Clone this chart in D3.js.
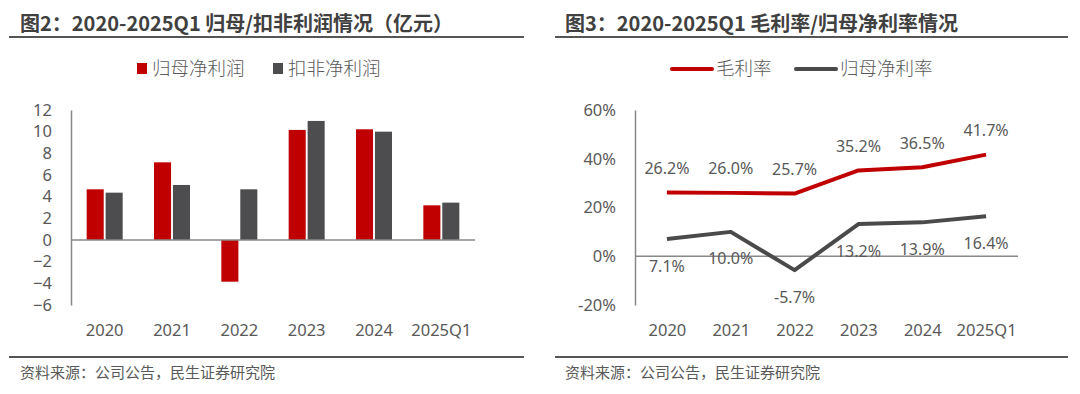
<!DOCTYPE html>
<html>
<head>
<meta charset="utf-8">
<script src="https://cdn.jsdelivr.net/npm/d3@7"></script>
<style>
  body { margin: 0; background: #fff; }
  text { font-family: "Noto Sans", "Noto Sans CJK SC", sans-serif; fill: #595959; }
  .cjk { font-family: "Noto Sans CJK SC", sans-serif; }
</style>
</head>
<body>
<script>
var width = 1080;
var height = 394;

// data
var categories = ['2020', '2021', '2022', '2023', '2024', '2025Q1'];
var profitSeries = ['归母净利润', '扣非净利润'];
var netProfit = [4.68, 7.17, -3.85, 10.16, 10.22, 3.2];
var deductedProfit = [4.37, 5.08, 4.68, 10.99, 10.0, 3.45];
var profitTicks = [-6, -4, -2, 0, 2, 4, 6, 8, 10, 12];

var marginSeries = ['毛利率', '归母净利率'];
var grossMargin = [26.2, 26.0, 25.7, 35.2, 36.5, 41.7];
var netMargin = [7.1, 10.0, -5.7, 13.2, 13.9, 16.4];
var marginTicks = [-20, 0, 20, 40, 60];

var red = '#c00000';
var grey = '#4d4d4f';

var svg = d3.select('body').append('svg')
    .attr('width', width)
    .attr('height', height);

function frame(x0, x1, tx, title) {
  // title + rules top and bottom
  svg.append('text').attr('class', 'cjk')
      .attr('x', tx).attr('y', 31)
      .style('font-size', '20px').style('font-weight', 700).style('fill', '#404040')
      .text(title);
  [37, 357].forEach(function(y) {
    svg.append('line')
        .attr('x1', x0).attr('x2', x1).attr('y1', y).attr('y2', y)
        .attr('stroke', '#555').attr('stroke-width', 2);
  });
  svg.append('text').attr('class', 'cjk')
      .attr('x', tx).attr('y', 378)
      .style('font-size', '15px')
      .text('资料来源：公司公告，民生证券研究院');
}

function styleAxis(g) {
  g.selectAll('text').style('font-size', '16.5px').style('fill', '#595959');
  g.select('.domain').attr('stroke', '#888').attr('stroke-width', 1.5);
}

// ---------- left: bar chart ----------
frame(9, 524, 20, '图2：2020-2025Q1 归母/扣非利润情况（亿元）');

var x = d3.scaleBand().domain(categories).range([71, 475]);
var x1 = d3.scaleBand().domain(profitSeries).range([-18, 18]).paddingInner(0.1);
var y = d3.scaleLinear().domain([-6, 12]).range([305, 110]);

var left = svg.append('g');

left.append('g')
    .attr('transform', 'translate(71,0)')
    .call(d3.axisLeft(y).tickValues(profitTicks).tickSize(0).tickSizeOuter(0).tickPadding(19))
    .call(styleAxis);

left.append('g')
    .attr('transform', 'translate(0,305)')
    .call(d3.axisBottom(x).tickSize(0).tickPadding(19))
    .call(styleAxis)
    .call(function(g) { g.select('.domain').remove(); });

var barData = [netProfit, deductedProfit];
barData.forEach(function(vals, si) {
  left.selectAll('.bar' + si)
      .data(vals)
    .enter().append('rect')
      .attr('x', function(d, i) { return x(categories[i]) + x.bandwidth() / 2 + x1(profitSeries[si]); })
      .attr('width', x1.bandwidth())
      .attr('y', function(d) { return y(Math.max(0, d)); })
      .attr('height', function(d) { return Math.abs(y(d) - y(0)); })
      .attr('fill', si === 0 ? red : grey);
});

left.append('line')
    .attr('x1', 71).attr('x2', 475).attr('y1', y(0)).attr('y2', y(0))
    .attr('stroke', '#888').attr('stroke-width', 1.5);

// legend
var legendX = [137, 273];
profitSeries.forEach(function(s, i) {
  left.append('rect')
      .attr('x', legendX[i]).attr('y', 63).attr('width', 10).attr('height', 11)
      .attr('fill', i === 0 ? red : grey);
  left.append('text').attr('class', 'cjk')
      .attr('x', legendX[i] + 15).attr('y', 75)
      .style('font-size', '18.5px').style('font-weight', 300)
      .text(s);
});

// ---------- right: line chart ----------
frame(555, 1068, 565, '图3：2020-2025Q1 毛利率/归母净利率情况');

var px = d3.scalePoint().domain(categories).range([635, 1018]).padding(0.5);
var py = d3.scaleLinear().domain([-20, 60]).range([305, 110]);

var right = svg.append('g');

right.append('g')
    .attr('transform', 'translate(635,0)')
    .call(d3.axisLeft(py).tickValues(marginTicks).tickSize(0).tickSizeOuter(0).tickPadding(19)
      .tickFormat(function(d) { return d + '%'; }))
    .call(styleAxis);

right.append('g')
    .attr('transform', 'translate(0,305)')
    .call(d3.axisBottom(px).tickSize(0).tickPadding(19))
    .call(styleAxis)
    .call(function(g) { g.select('.domain').remove(); });

right.append('line')
    .attr('x1', 635).attr('x2', 1018).attr('y1', py(0)).attr('y2', py(0))
    .attr('stroke', '#888').attr('stroke-width', 1.5);

var line = d3.line()
    .x(function(d, i) { return px(categories[i]); })
    .y(function(d) { return py(d); });

var lineData = [grossMargin, netMargin];
lineData.forEach(function(vals, si) {
  right.append('path')
      .datum(vals)
      .attr('d', line)
      .attr('fill', 'none')
      .attr('stroke', si === 0 ? red : '#4a4a4a')
      .attr('stroke-width', 4)
      .attr('stroke-linejoin', 'round');
});

lineData.forEach(function(vals, si) {
  right.selectAll('.lbl' + si)
      .data(vals)
    .enter().append('text')
      .attr('x', function(d, i) { return px(categories[i]); })
      .attr('y', function(d) { return py(d) + (si === 0 ? -24 : 27); })
      .attr('dy', '0.35em')
      .attr('text-anchor', 'middle')
      .style('font-size', '16px')
      .text(function(d) { return d.toFixed(1) + '%'; });
});

// legend
var legendLX = [672, 796];
marginSeries.forEach(function(s, i) {
  right.append('line')
      .attr('x1', legendLX[i]).attr('x2', legendLX[i] + 40).attr('y1', 69).attr('y2', 69)
      .attr('stroke', i === 0 ? red : '#4a4a4a').attr('stroke-width', 4)
      .attr('stroke-linecap', 'round');
  right.append('text').attr('class', 'cjk')
      .attr('x', legendLX[i] + 44).attr('y', 75)
      .style('font-size', '18.5px').style('font-weight', 300)
      .text(s);
});
</script>
</body>
</html>
